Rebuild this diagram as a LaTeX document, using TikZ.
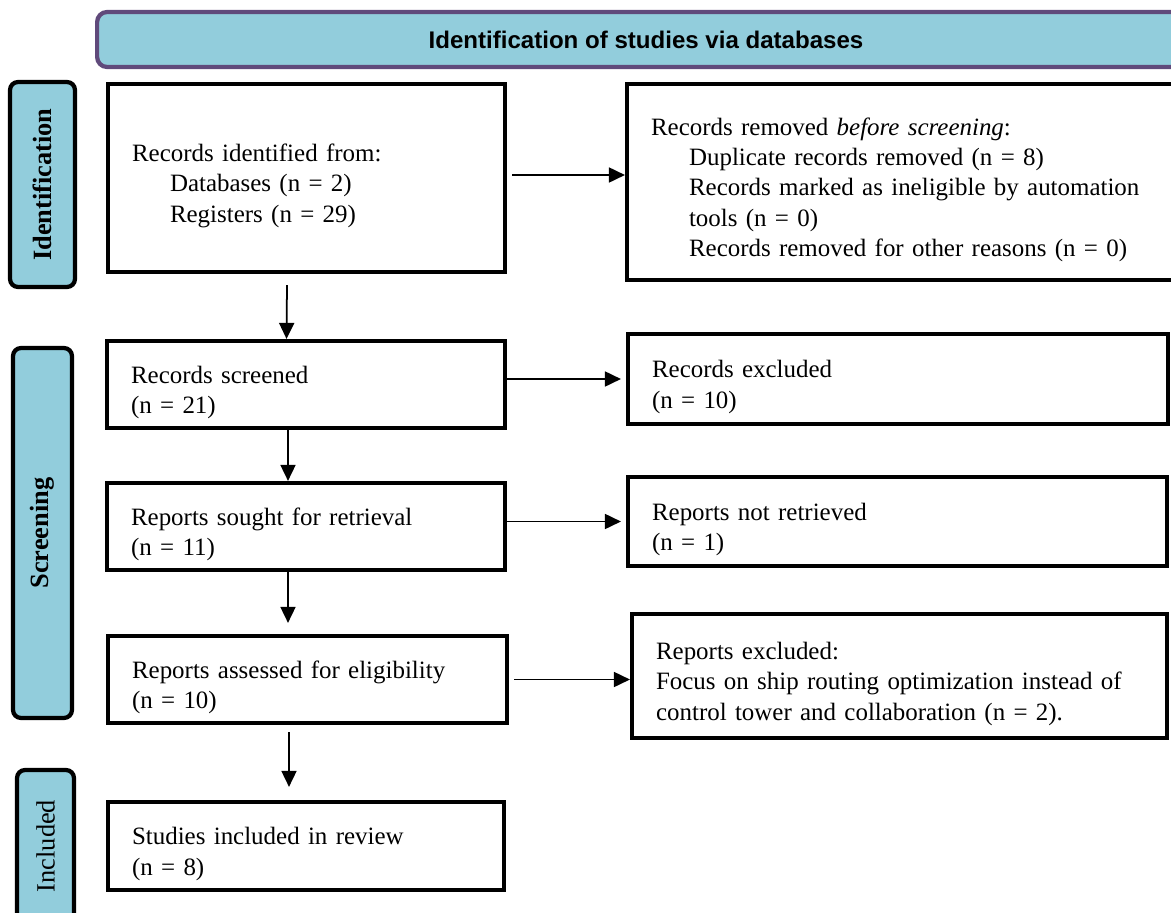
\documentclass[tikz,border=0pt]{standalone}
\usepackage{fontspec}
\setmainfont{Liberation Serif}
\newfontfamily\bannerfont{Liberation Sans}
\usepackage{tikz}
\usetikzlibrary{arrows.meta}
\usepackage{xcolor}
\definecolor{phaseblue}{HTML}{92CDDC}
\definecolor{bannerpurple}{HTML}{604A7B}

\begin{document}
\begin{tikzpicture}[x=0.02cm, y=-0.02cm,
  box/.style={draw, line width=2.4pt, inner xsep=0.48cm, inner ysep=0pt, align=left, font=\fontsize{14.2}{17.3}\selectfont, execute at begin node={\rule{0pt}{0.66cm}}},
  phase/.style={draw, line width=2.4pt, fill=phaseblue, rounded corners=0.16cm, inner sep=0pt, rotate=90},
  arr/.style={-{Triangle[length=0.32cm, width=0.3cm]}, line width=1pt}]
\useasboundingbox (0,0) rectangle (1171,913);
\clip (0,0) rectangle (1171,913);
\node[draw=bannerpurple, line width=2.4pt, fill=phaseblue, rounded corners=0.2cm, minimum width=21.96cm, minimum height=1.1cm, font=\bannerfont\bfseries\fontsize{13.7}{16}\selectfont] (banner) at (646,39.5) {Identification of studies via databases};
\node[phase, minimum width=4.1cm, minimum height=1.3cm, font=\bfseries\fontsize{15}{18}\selectfont] (idlabel) at (42.5,184.5) {Identification};
\node[phase, minimum width=7.4cm, minimum height=1.18cm, font=\bfseries\fontsize{15}{18}\selectfont] (screenlabel) at (42.5,533) {Screening};
\node[phase, minimum width=3.04cm, minimum height=1.14cm, font=\fontsize{15}{18}\selectfont] (inclabel) at (45.5,846) {Included};
\node[box, text width=6.98cm, minimum height=3.76cm] (ident) at (306.5,178) {Records identified from:\\ \hspace*{0.76cm}Databases (n = 2)\\ \hspace*{0.76cm}Registers (n = 29)};
\node[box, text width=10.2cm, minimum height=3.92cm] (removed) at (906,182) {Records removed \textit{before screening}:\\ \hspace*{0.76cm}Duplicate records removed (n = 8)\\ \hspace*{0.76cm}Records marked as ineligible by automation\\ \hspace*{0.76cm}tools (n = 0)\\ \hspace*{0.76cm}Records removed for other reasons (n = 0)};
\node[box, text width=7cm, minimum height=1.74cm] (screened) at (306,384.5) {Records screened\\ (n = 21)};
\node[box, text width=9.84cm, minimum height=1.8cm] (excluded) at (898,379) {Records excluded\\ (n = 10)};
\node[box, text width=7cm, minimum height=1.74cm] (sought) at (306,526.5) {Reports sought for retrieval\\ (n = 11)};
\node[box, text width=9.82cm, minimum height=1.78cm] (notretr) at (897.5,521.5) {Reports not retrieved\\ (n = 1)};
\node[box, text width=7.02cm, minimum height=1.74cm] (assessed) at (307.5,679.5) {Reports assessed for eligibility\\ (n = 10)};
\node[box, text width=9.74cm, minimum height=2.48cm] (repexcl) at (899.5,676) {Reports excluded:\\ Focus on ship routing optimization instead of\\ control tower and collaboration (n = 2).};
\node[box, text width=6.96cm, minimum height=1.76cm] (included) at (306,846) {Studies included in review\\ (n = 8)};
\draw[arr] ([xshift=-0.39cm, yshift=-0.22cm]ident.south) -- ([xshift=-0.39cm]screened.north);
\draw[arr] ([xshift=-0.36cm]screened.south) -- ([xshift=-0.36cm]sought.north);
\draw[arr] ([xshift=-0.36cm]sought.south) -- ([xshift=-0.39cm, yshift=0.22cm]assessed.north);
\draw[arr] ([xshift=-0.37cm, yshift=-0.14cm]assessed.south) -- ([xshift=-0.34cm, yshift=0.26cm]included.north);
\draw[arr] ([xshift=0.1cm, yshift=0.06cm]ident.east) -- ([yshift=0.06cm]ident.east -| removed.west);
\draw[arr] (screened.east |- excluded.west) -- ([xshift=-0.1cm]excluded.west);
\draw[arr] (sought.east |- notretr.west) -- ([xshift=-0.1cm]notretr.west);
\draw[arr] ([xshift=0.1cm]assessed.east) -- (assessed.east -| repexcl.west);
\end{tikzpicture}
\end{document}
